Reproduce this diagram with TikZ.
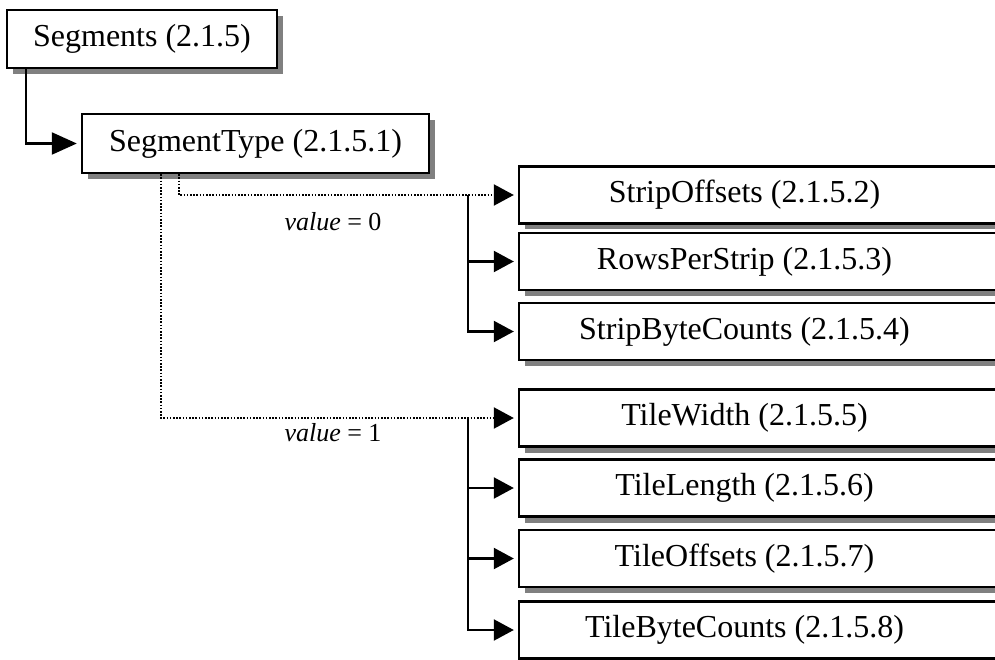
\documentclass[tikz,border=0pt]{standalone}
\usepackage{fontspec}
\setmainfont{Liberation Serif}
\usetikzlibrary{arrows.meta,shadows,calc}

\begin{document}
\begin{tikzpicture}[x=1pt,y=-1pt,
  box/.style={draw,line width=2.4pt,fill=white,inner sep=0pt,minimum height=57pt,
    font=\fontsize{32}{38}\selectfont,
    drop shadow={shadow xshift=6pt,shadow yshift=-6pt,fill=gray,opacity=1}},
  subbox/.style={box,minimum width=481pt},
  link/.style={line width=2.2pt,-{Triangle[length=20pt,width=21pt]},shorten >=4pt},
  dots/.style={link,dash pattern=on 1.6pt off 1.6pt}]
  \useasboundingbox (0,0) rectangle (995,660);
  \clip (0,0) rectangle (995,660);
  \node[box,minimum width=270pt,minimum height=58pt] (seg) at (142,39) {Segments (2.1.5)};
  \node[box,minimum width=347pt,minimum height=59pt] (type) at (255.5,143.5) {SegmentType (2.1.5.1)};
  \foreach \n/\y/\t in {s1/195/StripOffsets (2.1.5.2), s2/261.5/RowsPerStrip (2.1.5.3),
      s3/331.5/StripByteCounts (2.1.5.4), t1/418/TileWidth (2.1.5.5),
      t2/488/TileLength (2.1.5.6), t3/558.5/TileOffsets (2.1.5.7),
      t4/630/TileByteCounts (2.1.5.8)} {
    \node[subbox] (\n) at (759.5,\y) {\t\hspace*{30pt}};
  }
  \draw[link,-{Triangle[length=25pt,width=22pt]}] ($(seg.south west)+(20,0)$) |- (type);
  % value = 0 branch
  \draw[dots] ($(type.south west)+(98,0)$) |- (s1);
  \node[font=\fontsize{26}{30}\selectfont] (v0) at (333,222) {\textit{value} = 0};
  \coordinate (bus0) at ($(s1.west)+(-50,0)$);
  \draw[link] (bus0) |- (s2);
  \draw[link] (bus0) |- (s3);
  % value = 1 branch
  \draw[dots] ($(type.south west)+(80,0)$) |- (t1);
  \node[font=\fontsize{26}{30}\selectfont] (v1) at (333,433) {\textit{value} = 1};
  \coordinate (bus1) at ($(t1.west)+(-50,0)$);
  \foreach \n in {t2,t3,t4} \draw[link] (bus1) |- (\n);
\end{tikzpicture}
\end{document}
